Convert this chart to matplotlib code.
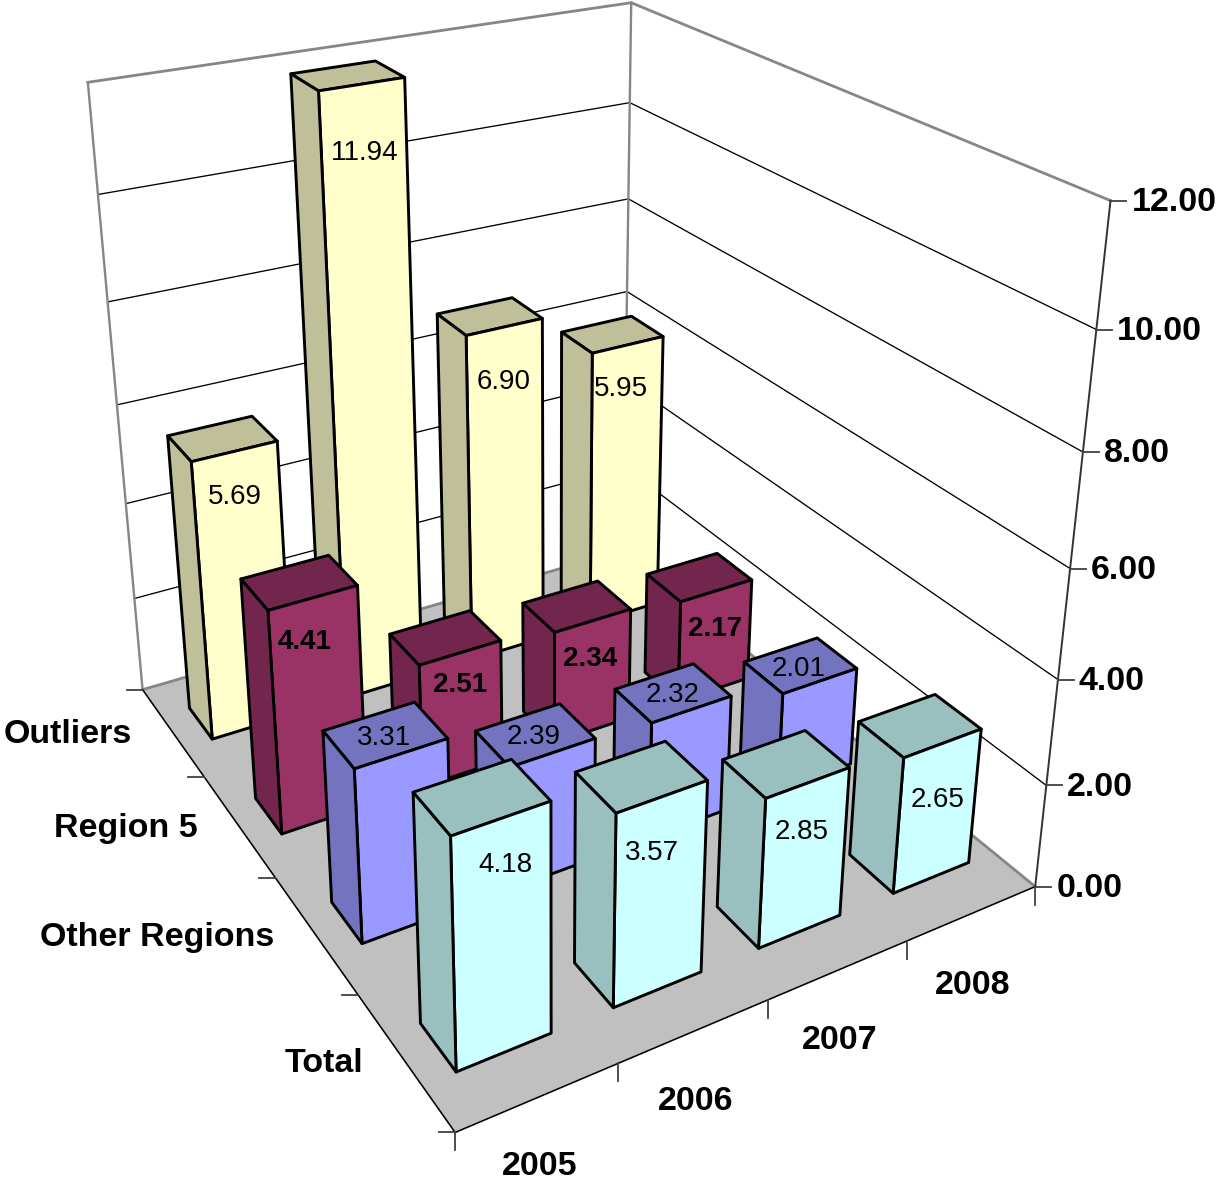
import numpy as np
import matplotlib
matplotlib.use("Agg")
import matplotlib.pyplot as plt
from matplotlib.lines import Line2D
from mpl_toolkits.mplot3d.art3d import Poly3DCollection

years = ["2005", "2006", "2007", "2008"]
series = ["Total", "Other Regions", "Region 5", "Outliers"]
total = [4.18, 3.57, 2.85, 2.65]
other_regions = [3.31, 2.39, 2.32, 2.01]
region_5 = [4.41, 2.51, 2.34, 2.17]
outliers = [5.69, 11.94, 6.90, 5.95]
value_ticks = [0, 2, 4, 6, 8, 10, 12]

values = [total, other_regions, region_5, outliers]
face_colors = ["#CCFFFF", "#9999FF", "#993366", "#FFFFCC"]
shade_colors = ["#99BFBF", "#7373BF", "#73264D", "#BFBF99"]

# Hand-placed data labels: pixel shift from the middle of each bar's front top edge.
label_shift = [
    [(4, 46), (-10, 56), (-6, 49), (-5, 57)],
    [(-17, -16), (-19, -16), (-19, -15), (-21, -12)],
    [(-8, 44), (0, 32), (-3, 38), (-1, 38)],
    [(1, 46), (3, 69), (-1, 55), (-7, 44)],
]

# Oblique camera: data (year slot, series slot, value) to canvas pixels.
CAMERA = np.array([[189.178423, -65.560223, -7.332774, 455.156216],
                   [-23.647275, -49.840225, -69.568144, 1132.467421],
                   [0.042663, 0.088253, -0.013217, 1.0]])
W, H = 1217, 1180
BAR_X = (0.205, 0.80)
BAR_Y = (0.32, 0.68)

plt.rcParams["font.family"] = ["Liberation Sans", "DejaVu Sans"]
fig = plt.figure(figsize=(W / 100, H / 100), dpi=100)
ax = fig.add_axes([0, 0, 1, 1], projection="3d", computed_zorder=False)
ax.set_axis_off()
ax.set_proj_type("ortho")
ax.apply_aspect = lambda position=None: None
ax.set_position([0, 0, 1, 1])
ax.viewLim.intervalx = (0, W)
ax.viewLim.intervaly = (H, 0)
ax.set_xlim(0, 4)
ax.set_ylim(0, 4)
ax.set_zlim(0, 12)
ax.get_proj = lambda: np.vstack([CAMERA[:2], [0, 0, 1e-3, 0], CAMERA[2]])


def project(x, y, z):
    h = CAMERA @ np.array([x, y, z, 1.0])
    return h[0] / h[2], h[1] / h[2]


def screen_line(p, q, color="#404040", lw=1.3):
    ax.add_line(Line2D([p[0], q[0]], [p[1], q[1]], color=color, lw=lw, zorder=1,
                       transform=ax.transData))


def screen_text(x, y, s, **kw):
    ax.text2D(x, y, s, transform=ax.transData, zorder=2000, **kw)


# floor
ax.add_collection3d(Poly3DCollection([[(0, 0, 0), (4, 0, 0), (4, 4, 0), (0, 4, 0)]],
                                     facecolors="#C0C0C0", edgecolors="none", zorder=0))
# gridlines on both walls
for v in value_ticks[1:-1]:
    ax.plot([0, 4, 4], [4, 4, 0], [v, v, v], color="black", lw=0.95, zorder=0.5)
# wall outline
GRAY = "#868686"
ax.plot([0, 4, 4], [4, 4, 0], [12, 12, 12], color=GRAY, lw=2.0, zorder=0.6)
ax.plot([0, 4, 4], [4, 4, 0], [0, 0, 0], color=GRAY, lw=2.0, zorder=0.6)
ax.plot([0, 0], [4, 4], [0, 12], color=GRAY, lw=1.7, zorder=0.6)
ax.plot([4, 4], [4, 4], [0, 12], color=GRAY, lw=1.7, zorder=0.6)
ax.plot([4, 4], [0, 0], [0, 12], color="#333333", lw=1.4, zorder=0.6)
ax.plot([0, 4], [0, 0], [0, 0], color="black", lw=1.15, zorder=0.7)
ax.plot([0, 0], [0, 4], [0, 0], color="black", lw=1.15, zorder=0.7)

# tick marks and axis labels
TICK_FONT = dict(fontsize=24.5, fontweight="bold", va="center")
for v in value_ticks:
    px, py = project(4, 0, v)
    screen_line((px, py), (px + 16, py))
    screen_text(px + 21, py + 2, f"{v:.2f}", ha="left", **TICK_FONT)
for i in range(5):
    px, py = project(i, 0, 0)
    screen_line((px, py), (px, py + 18))
for j in range(5):
    px, py = project(0, j, 0)
    screen_line((px, py), (px - 16, py))
for i, year in enumerate(years):
    px, py = project(i + 0.5, 0, 0)
    screen_text(px + 1, py + 69 + i, year, ha="center", **TICK_FONT)
for j, name in enumerate(series):
    px, py = project(0, j + 0.5, 0)
    screen_text(px - 41, py + 3, name, ha="right", **TICK_FONT)


def bar_faces(i, j, v):
    x0, x1 = i + BAR_X[0], i + BAR_X[1]
    y0, y1 = j + BAR_Y[0], j + BAR_Y[1]
    return [[(x0, y0, 0), (x1, y0, 0), (x1, y0, v), (x0, y0, v)],
            [(x0, y0, 0), (x0, y1, 0), (x0, y1, v), (x0, y0, v)],
            [(x0, y0, v), (x1, y0, v), (x1, y1, v), (x0, y1, v)]]


# back rows first, far years first
order = 10
for j in (3, 2, 1, 0):
    for i in (3, 2, 1, 0):
        v = values[j][i]
        ax.add_collection3d(Poly3DCollection(
            bar_faces(i, j, v),
            facecolors=[face_colors[j], shade_colors[j], shade_colors[j]],
            edgecolors="black", linewidths=2.1, zorder=order))
        order += 1
        px, py = project(i + 0.5, j + BAR_Y[0], v)
        dx, dy = label_shift[j][i]
        screen_text(px + dx, py + dy, f"{v:.2f}", fontsize=20,
                    fontweight="bold" if j == 2 else "normal", ha="center", va="center")

fig.savefig("out.png", dpi=100)
